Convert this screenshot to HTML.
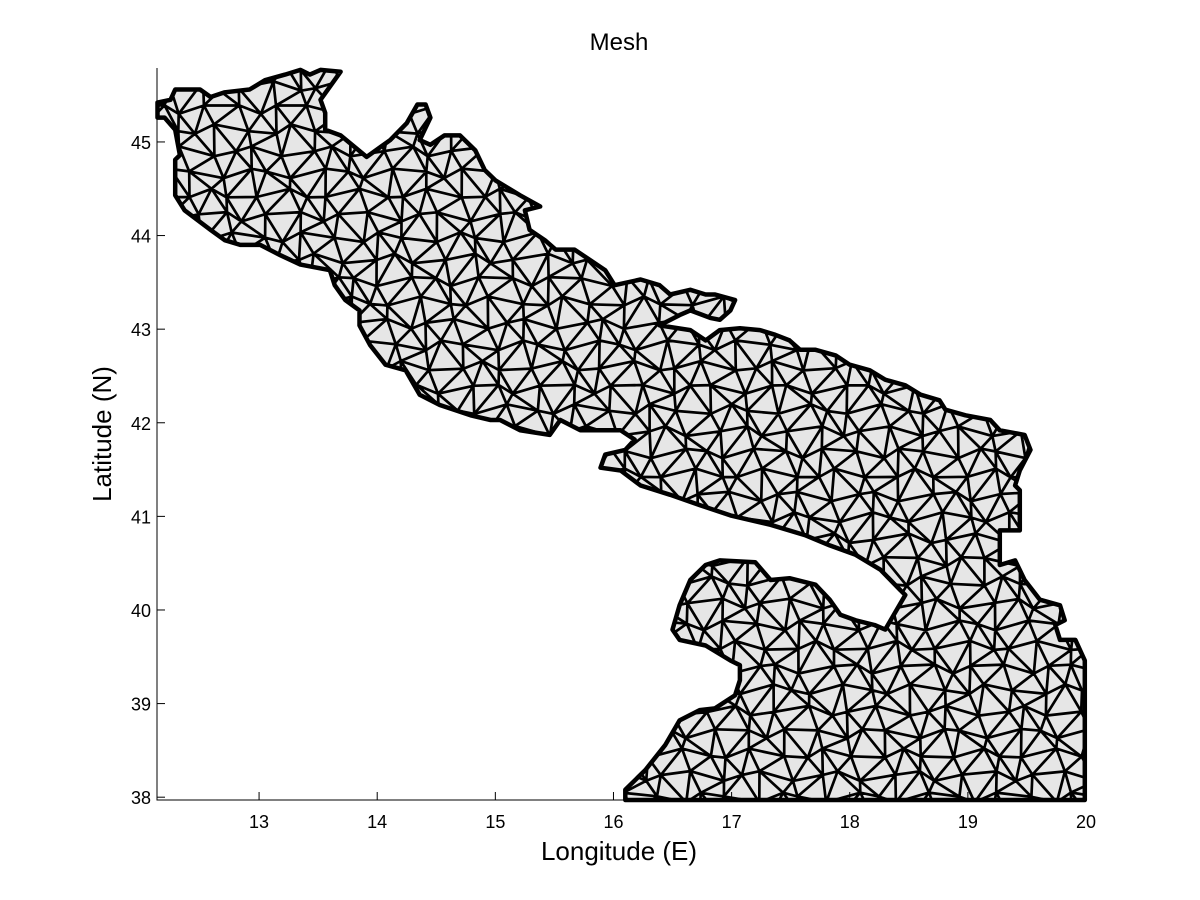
<!DOCTYPE html>
<html><head><meta charset="utf-8">
<style>
html,body{margin:0;padding:0;background:#fff;}
svg{display:block;font-family:"Liberation Sans",Arial,sans-serif;}
</style></head>
<body>
<svg id="chart" width="1200" height="900" viewBox="0 0 1200 900">
  <rect x="0" y="0" width="1200" height="900" fill="#fff"/>
  <defs><clipPath id="domclip"><path id="clipPath"/></clipPath></defs>
  <g id="plot"></g>
  <text x="619" y="50" text-anchor="middle" font-size="24">Mesh</text>
  <text x="619" y="860" text-anchor="middle" font-size="26">Longitude (E)</text>
  <text x="111" y="434" text-anchor="middle" font-size="26" transform="rotate(-90 111 434)">Latitude (N)</text>
</svg>
<script>
// Coastline of the domain (lon, lat)
const boundaryLon = [12.14,12.25,12.29,12.50,12.59,12.71,12.92,13.05,13.22,13.35,13.43,13.52,13.69,13.52,13.56,13.56,13.69,13.91,14.11,14.25,14.34,14.41,14.45,14.36,14.45,14.57,14.70,14.83,14.91,15.00,15.21,15.38,15.25,15.29,15.42,15.51,15.67,15.80,15.93,16.01,16.23,16.39,16.48,16.65,16.78,16.86,17.03,16.99,16.90,16.82,16.65,16.56,16.39,16.65,16.78,16.90,17.07,17.24,17.37,17.49,17.58,17.71,17.88,18.00,18.17,18.30,18.47,18.60,18.76,18.81,18.98,19.19,19.27,19.48,19.53,19.44,19.40,19.44,19.44,19.27,19.27,19.40,19.48,19.61,19.78,19.82,19.74,19.78,19.91,19.99,19.99,16.10,16.10,16.27,16.44,16.56,16.73,16.86,17.03,17.07,17.07,16.99,16.78,16.56,16.50,16.56,16.65,16.78,16.90,17.20,17.33,17.49,17.71,17.83,17.92,18.05,18.21,18.30,18.47,18.43,18.26,18.05,17.83,17.62,17.33,16.99,16.73,16.48,16.23,16.06,15.89,15.93,16.10,16.18,16.06,15.72,15.55,15.46,15.21,15.04,14.96,14.79,14.53,14.36,14.24,14.07,13.94,13.85,13.85,13.73,13.64,13.60,13.35,13.18,13.01,12.84,12.71,12.59,12.37,12.29,12.29,12.33,12.29,12.20,12.14];
const boundaryLat = [45.42,45.45,45.56,45.56,45.48,45.53,45.56,45.66,45.72,45.77,45.72,45.77,45.75,45.45,45.31,45.13,45.07,44.84,45.02,45.20,45.40,45.40,45.26,45.02,44.97,45.07,45.07,44.91,44.70,44.59,44.43,44.31,44.27,44.06,43.95,43.85,43.85,43.74,43.63,43.47,43.53,43.47,43.37,43.42,43.37,43.37,43.31,43.20,43.10,43.12,43.20,43.15,43.04,42.99,42.88,42.99,43.01,42.99,42.94,42.88,42.78,42.78,42.72,42.62,42.56,42.46,42.40,42.30,42.24,42.14,42.08,42.03,41.92,41.87,41.71,41.49,41.33,41.28,40.85,40.85,40.48,40.53,40.32,40.11,40.05,39.89,39.84,39.68,39.68,39.46,37.97,37.97,38.08,38.29,38.56,38.82,38.93,38.95,39.09,39.25,39.41,39.46,39.62,39.68,39.79,40.05,40.32,40.48,40.53,40.51,40.32,40.34,40.27,40.11,39.95,39.89,39.84,39.79,40.16,40.21,40.43,40.59,40.69,40.80,40.91,41.01,41.12,41.23,41.33,41.49,41.52,41.66,41.71,41.82,41.92,41.92,42.03,41.87,41.92,42.03,42.03,42.08,42.19,42.30,42.56,42.62,42.83,43.04,43.20,43.31,43.47,43.63,43.69,43.79,43.90,43.90,43.95,44.06,44.27,44.43,44.81,44.86,45.13,45.26,45.26];
// Axis ticks
const xTicks = [13,14,15,16,17,18,19,20];
const yTicks = [38,39,40,41,42,43,44,45];
// Mesh nodes: triangular lattice spacing (degrees)
const meshDLon = 0.21;
const meshDLat = 0.23;

const x0=157, x1=1086, y0=68, y1=800;
const lonMin=12.136, lonMax=20.0, latMin=37.97, latMax=45.79;
function sx(lon){return x0+(lon-lonMin)/(lonMax-lonMin)*(x1-x0);}
function sy(lat){return y1-(lat-latMin)/(latMax-latMin)*(y1-y0);}
const NS='http://www.w3.org/2000/svg';
const plot=document.getElementById('plot');

let d='';
for(let i=0;i<boundaryLon.length;i++){d+=(i?'L':'M')+sx(boundaryLon[i]).toFixed(1)+','+sy(boundaryLat[i]).toFixed(1);}
d+='Z';
document.getElementById('clipPath').setAttribute('d',d);

const fill=document.createElementNS(NS,'path');
fill.setAttribute('d',d);fill.setAttribute('fill','#e6e6e6');


plot.appendChild(fill);

function node(i,j){
  const lon=lonMin-0.3+i*meshDLon+(j%2?meshDLon/2:0)+0.06*Math.sin(i*1.7+j*2.3);
  const lat=latMin-0.2+j*meshDLat+0.06*Math.cos(i*2.1+j*1.3);
  return [sx(lon),sy(lat)];
}
const nI=Math.ceil((lonMax-lonMin+0.6)/meshDLon)+2, nJ=Math.ceil((latMax-latMin+0.4)/meshDLat)+2;
let md='';
for(let j=0;j<nJ;j++){for(let i=0;i<nI;i++){
  const a=node(i,j);
  if(i+1<nI){const b=node(i+1,j);md+='M'+a[0].toFixed(1)+','+a[1].toFixed(1)+'L'+b[0].toFixed(1)+','+b[1].toFixed(1);}
  if(j+1<nJ){
    const ii=(j%2)?i:i-1;
    if(ii>=0){const c=node(ii,j+1);md+='M'+a[0].toFixed(1)+','+a[1].toFixed(1)+'L'+c[0].toFixed(1)+','+c[1].toFixed(1);}
    if(ii+1<nI){const e=node(ii+1,j+1);md+='M'+a[0].toFixed(1)+','+a[1].toFixed(1)+'L'+e[0].toFixed(1)+','+e[1].toFixed(1);}
  }
}}
const mesh=document.createElementNS(NS,'path');
mesh.setAttribute('d',md);mesh.setAttribute('stroke','#000');mesh.setAttribute('stroke-width','2.7');mesh.setAttribute('fill','none');
mesh.setAttribute('clip-path','url(#domclip)');


plot.appendChild(mesh);

const outline=document.createElementNS(NS,'path');
outline.setAttribute('d',d);outline.setAttribute('fill','none');outline.setAttribute('stroke','#000');outline.setAttribute('stroke-width','4.5');outline.setAttribute('stroke-linejoin','round');


plot.appendChild(outline);

const ax=document.createElementNS(NS,'path');
ax.setAttribute('d','M'+x0+','+y0+'L'+x0+','+y1+'L'+x1+','+y1);
ax.setAttribute('stroke','#000');ax.setAttribute('fill','none');ax.setAttribute('stroke-width','1');


plot.appendChild(ax);
xTicks.forEach(function(v){
  const t=document.createElementNS(NS,'line');
  t.setAttribute('x1',sx(v));t.setAttribute('x2',sx(v));t.setAttribute('y1',y1);t.setAttribute('y2',y1-8);t.setAttribute('stroke','#000');
  
  
  plot.appendChild(t);
  const l=document.createElementNS(NS,'text');
  l.setAttribute('x',sx(v));l.setAttribute('y',y1+28);l.setAttribute('text-anchor','middle');l.setAttribute('font-size','18');
  l.textContent=v;
  
  
  plot.appendChild(l);
});
yTicks.forEach(function(v){
  const t=document.createElementNS(NS,'line');
  t.setAttribute('x1',x0);t.setAttribute('x2',x0+8);t.setAttribute('y1',sy(v));t.setAttribute('y2',sy(v));t.setAttribute('stroke','#000');
  
  
  plot.appendChild(t);
  const l=document.createElementNS(NS,'text');
  l.setAttribute('x',x0-6);l.setAttribute('y',sy(v)+7);l.setAttribute('text-anchor','end');l.setAttribute('font-size','18');
  l.textContent=v;
  
  
  plot.appendChild(l);
});
</script>
</body></html>
